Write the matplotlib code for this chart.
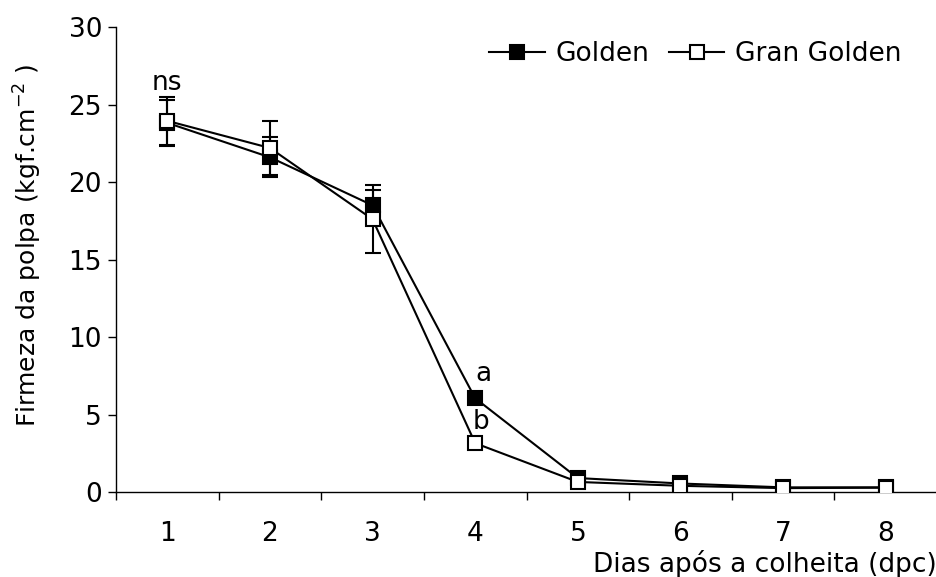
import matplotlib
matplotlib.use("Agg")
import matplotlib.pyplot as plt
from matplotlib.lines import Line2D

# dias após a colheita
dias = [1, 2, 3, 4, 5, 6, 7, 8]

golden = [23.82, 21.6, 18.5, 6.05, 0.9, 0.55, 0.3, 0.3]
golden_err = [1.47, 1.3, 1.0, 0.2, 0.1, 0.1, 0.05, 0.05]

gran = [23.95, 22.2, 17.6, 3.15, 0.65, 0.4, 0.25, 0.28]
gran_err = [1.57, 1.75, 2.2, 0.2, 0.1, 0.1, 0.05, 0.05]

# letras de significância
notas = ["ns", "a", "b"]
notas_x = [1, 4.08, 4.06]
notas_y = [26.4, 7.6, 4.5]

plt.rcParams.update({"font.family": "DejaVu Sans", "font.size": 19})

fig = plt.figure(figsize=(9.37, 5.77), dpi=100)
ax = fig.add_axes([0.1238, 0.1473, 0.8762, 0.8057])

style = dict(color="black", lw=1.5, marker="s", ms=10, mew=1.5,
             capsize=6, elinewidth=1.5, capthick=1.5, ecolor="black")
ax.errorbar(dias, golden, yerr=golden_err, mfc="black", mec="black", zorder=3, **style)
ax.errorbar(dias, gran, yerr=gran_err, mfc="white", mec="black", zorder=4, **style)

for t, x, y in zip(notas, notas_x, notas_y):
    ax.text(x, y, t, ha="center", va="center", fontsize=19)

ax.set_xlim(0.5, 8.5)
ax.set_ylim(0, 30)
ax.set_yticks(range(0, 31, 5))
ax.set_xticks(dias)
ax.set_xticks([d - 0.5 for d in dias] + [8.5], minor=True)
ax.tick_params(axis="x", which="major", length=0, pad=21)
ax.tick_params(axis="x", which="minor", length=6, width=1)
ax.tick_params(axis="y", length=6, width=1, pad=4)

for s in ["top", "right"]:
    ax.spines[s].set_visible(False)
for s in ["left", "bottom"]:
    ax.spines[s].set_linewidth(1)

ax.set_ylabel(r"Firmeza da polpa (kgf.cm$^{\mathregular{-2}}$ )", fontsize=18)
ax.yaxis.set_label_coords(-0.088, 0.53)
ax.set_xlabel("Dias após a colheita (dpc)", loc="right", labelpad=2)

handles = [
    Line2D([], [], color="black", lw=1.5, marker="s", ms=10, mew=1.5, mfc="black", mec="black"),
    Line2D([], [], color="black", lw=1.5, marker="s", ms=10, mew=1.5, mfc="white", mec="black"),
]
fig.legend(handles, ["Golden", "Gran Golden"], loc="center right",
           bbox_to_anchor=(0.962, 1 - 54 / 577), ncol=2, frameon=False,
           borderpad=0, borderaxespad=0, handlelength=2.1, handletextpad=0.4,
           columnspacing=0.75, fontsize=19)

fig.savefig("out.png", dpi=100)
